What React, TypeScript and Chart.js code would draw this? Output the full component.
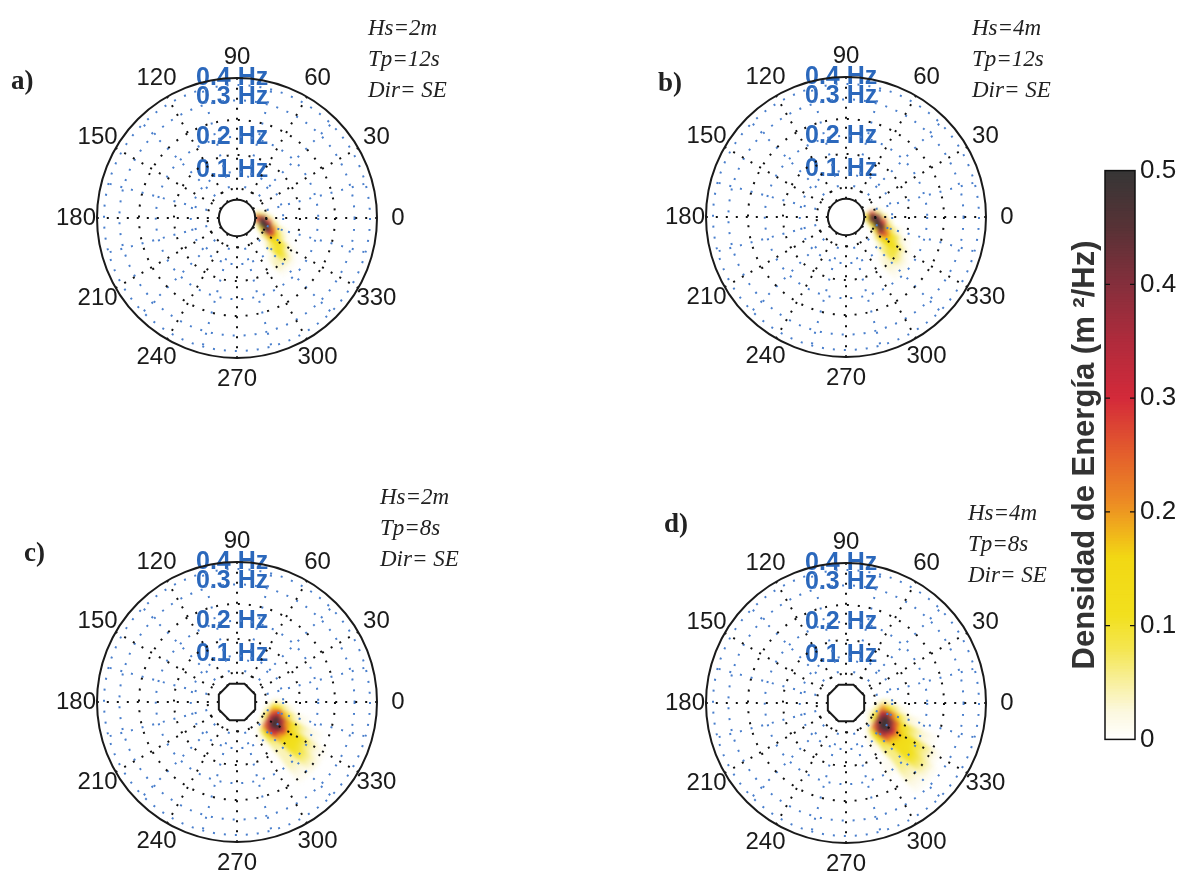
import React, { useEffect, useRef } from "react";
import { Chart, registerables } from "chart.js";

Chart.register(...registerables);

// ---------------- data ----------------
const angleTicks = [0, 30, 60, 90, 120, 150, 180, 210, 240, 270, 300, 330];
const freqTickLabels = ["0.1 Hz", "0.2 Hz", "0.3 Hz", "0.4 Hz"];
const freqTickRadii = [0.34, 0.58, 0.86, 1.0];
const blackRingRadii = [0.21, 0.45, 0.7];
const blueRingRadii = [0.33, 0.58, 0.84, 0.95];
const blackSpokeAngles = [0, 30, 60, 90, 120, 150, 180, 210, 240, 270, 300, 330];
const blueSpokeAngles = [15, 45, 75, 105, 135, 165, 195, 225, 255, 285, 315, 345];
const holeRadius = 0.13;

// spectral bins: radial position (normalised) and direction (deg)
const radialBins = [0.15, 0.19, 0.23, 0.27, 0.31, 0.35, 0.39, 0.43, 0.47, 0.51, 0.55, 0.59, 0.63, 0.67, 0.71, 0.75, 0.79];
const directionBins = [16, 8, 0, 352, 344, 336, 328, 320, 312, 304];

// energy density (m^2/Hz) per radial row / direction column
const spectrumA = [
  [0.03, 0.18, 0.35, 0.25, 0.06, 0, 0, 0, 0, 0],
  [0, 0.06, 0.38, 0.50, 0.48, 0.12, 0, 0, 0, 0],
  [0, 0, 0.06, 0.30, 0.50, 0.42, 0.07, 0, 0, 0],
  [0, 0, 0, 0.05, 0.22, 0.32, 0.17, 0.02, 0, 0],
  [0, 0, 0, 0, 0.06, 0.15, 0.15, 0.06, 0, 0],
  [0, 0, 0, 0, 0.02, 0.05, 0.13, 0.09, 0.01, 0],
  [0, 0, 0, 0, 0, 0.01, 0.08, 0.11, 0.03, 0],
  [0, 0, 0, 0, 0, 0, 0.03, 0.08, 0.04, 0],
  [0, 0, 0, 0, 0, 0, 0.01, 0.04, 0.03, 0],
  [0, 0, 0, 0, 0, 0, 0, 0.01, 0.01, 0],
];
const spectrumB = [
  [0, 0.06, 0.15, 0.08, 0, 0, 0, 0, 0, 0],
  [0.03, 0.28, 0.48, 0.42, 0.12, 0, 0, 0, 0, 0],
  [0, 0.06, 0.40, 0.50, 0.48, 0.12, 0, 0, 0, 0],
  [0, 0, 0.06, 0.28, 0.46, 0.36, 0.08, 0, 0, 0],
  [0, 0, 0, 0.05, 0.18, 0.25, 0.15, 0.03, 0, 0],
  [0, 0, 0, 0, 0.06, 0.14, 0.14, 0.06, 0, 0],
  [0, 0, 0, 0, 0.02, 0.08, 0.12, 0.08, 0.02, 0],
  [0, 0, 0, 0, 0, 0.03, 0.09, 0.09, 0.03, 0],
  [0, 0, 0, 0, 0, 0.01, 0.04, 0.06, 0.03, 0],
  [0, 0, 0, 0, 0, 0, 0.01, 0.03, 0.02, 0],
  [0, 0, 0, 0, 0, 0, 0, 0.01, 0.01, 0],
];
const spectrumC = [
  [0, 0, 0, 0, 0, 0, 0, 0, 0, 0],
  [0, 0, 0, 0, 0, 0, 0, 0, 0, 0],
  [0, 0, 0, 0.03, 0.06, 0.08, 0.06, 0.03, 0, 0],
  [0, 0, 0.03, 0.15, 0.25, 0.35, 0.35, 0.25, 0.08, 0.01],
  [0, 0, 0.02, 0.10, 0.30, 0.48, 0.50, 0.35, 0.12, 0.02],
  [0, 0, 0, 0.05, 0.18, 0.35, 0.45, 0.30, 0.10, 0.01],
  [0, 0, 0, 0.02, 0.08, 0.20, 0.28, 0.20, 0.06, 0],
  [0, 0, 0, 0, 0.04, 0.13, 0.17, 0.14, 0.05, 0],
  [0, 0, 0, 0, 0.02, 0.08, 0.13, 0.12, 0.04, 0],
  [0, 0, 0, 0, 0.01, 0.05, 0.11, 0.11, 0.04, 0],
  [0, 0, 0, 0, 0, 0.03, 0.09, 0.10, 0.04, 0],
  [0, 0, 0, 0, 0, 0.02, 0.06, 0.08, 0.04, 0],
  [0, 0, 0, 0, 0, 0.01, 0.04, 0.06, 0.03, 0],
  [0, 0, 0, 0, 0, 0, 0.02, 0.04, 0.02, 0],
  [0, 0, 0, 0, 0, 0, 0.01, 0.02, 0.01, 0],
];
const spectrumD = [
  [0, 0, 0, 0, 0, 0, 0, 0, 0, 0],
  [0, 0, 0, 0, 0.02, 0.03, 0.02, 0, 0, 0],
  [0, 0, 0.02, 0.05, 0.08, 0.10, 0.08, 0.04, 0.01, 0],
  [0, 0, 0.05, 0.20, 0.32, 0.40, 0.38, 0.25, 0.08, 0.01],
  [0, 0, 0.03, 0.15, 0.38, 0.50, 0.50, 0.38, 0.14, 0.02],
  [0, 0, 0.01, 0.07, 0.22, 0.40, 0.48, 0.35, 0.12, 0.02],
  [0, 0, 0, 0.03, 0.12, 0.25, 0.32, 0.25, 0.09, 0.01],
  [0, 0, 0, 0.01, 0.06, 0.15, 0.20, 0.17, 0.07, 0],
  [0, 0, 0, 0, 0.03, 0.10, 0.15, 0.14, 0.06, 0],
  [0, 0, 0, 0, 0.02, 0.07, 0.13, 0.13, 0.06, 0.01],
  [0, 0, 0, 0, 0.01, 0.05, 0.11, 0.12, 0.06, 0.01],
  [0, 0, 0, 0, 0, 0.03, 0.09, 0.11, 0.06, 0.01],
  [0, 0, 0, 0, 0, 0.02, 0.07, 0.09, 0.05, 0],
  [0, 0, 0, 0, 0, 0.01, 0.05, 0.07, 0.04, 0],
  [0, 0, 0, 0, 0, 0, 0.03, 0.05, 0.03, 0],
  [0, 0, 0, 0, 0, 0, 0.01, 0.03, 0.02, 0],
  [0, 0, 0, 0, 0, 0, 0, 0.01, 0.01, 0],
];
const spectra = [spectrumA, spectrumB, spectrumC, spectrumD];

const panelLetters = ["a)", "b)", "c)", "d)"];
const waveHeights = ["Hs=2m", "Hs=4m", "Hs=2m", "Hs=4m"];
const peakPeriods = ["Tp=12s", "Tp=12s", "Tp=8s", "Tp=8s"];
const waveDirections = ["Dir= SE", "Dir= SE", "Dir= SE", "Dir= SE"];
const holeShapes = ["circle", "circle", "octagon", "octagon"];

const colorbarTicks = [0, 0.1, 0.2, 0.3, 0.4, 0.5];
const colorbarTitle = "Densidad de Energía (m \u00B2/Hz)";
const colormapStops: [number, string][] = [
  [0.0, "#ffffff"],
  [0.025, "#fcf8de"],
  [0.05, "#f8f0a0"],
  [0.08, "#f4e650"],
  [0.11, "#f2e01e"],
  [0.16, "#f2d814"],
  [0.185, "#f0b01c"],
  [0.21, "#ec8a24"],
  [0.25, "#e4602c"],
  [0.3, "#d42a3a"],
  [0.35, "#b02b3c"],
  [0.4, "#852f3c"],
  [0.45, "#583236"],
  [0.5, "#363636"],
];

// ---------------- layout / style ----------------
const R = 140;
const PANELS = [
  { cx: 237, cy: 218, left: 0, top: 0, w: 590, h: 440, letter: [25, 80], text: [368, 28] },
  { cx: 846, cy: 217, left: 590, top: 0, w: 450, h: 440, letter: [672, 82], text: [972, 28] },
  { cx: 237, cy: 702, left: 0, top: 440, w: 590, h: 434, letter: [38, 552], text: [380, 497] },
  { cx: 846, cy: 703, left: 590, top: 440, w: 450, h: 434, letter: [678, 523], text: [968, 513] },
];
const SANS = "'Liberation Sans', Arial, sans-serif";
const SERIF = "'Liberation Serif', 'Times New Roman', serif";
const FREQ_BLUE = "#2b68bc";
const DOT_BLUE = "#4a7fcc";

function hexToRgb(h: string) {
  const n = parseInt(h.slice(1), 16);
  return [(n >> 16) & 255, (n >> 8) & 255, n & 255];
}
function colorFor(v: number) {
  if (v <= colormapStops[0][0]) return colormapStops[0][1];
  for (let i = 1; i < colormapStops.length; i++) {
    const [v1, c1] = colormapStops[i];
    const [v0, c0] = colormapStops[i - 1];
    if (v <= v1) {
      const t = (v - v0) / (v1 - v0);
      const a = hexToRgb(c0), b = hexToRgb(c1);
      const m = a.map((x, k) => Math.round(x + (b[k] - x) * t));
      return `rgb(${m[0]},${m[1]},${m[2]})`;
    }
  }
  return colormapStops[colormapStops.length - 1][1];
}

const rad = (d: number) => (d * Math.PI) / 180;

function PolarPanel({ index }: { index: number }) {
  const ref = useRef<HTMLCanvasElement>(null);
  const L = PANELS[index];
  useEffect(() => {
    const spectrum = spectra[index];
    const plugin = {
      id: "polarSpectrum",
      afterDraw(chart: any) {
        const { ctx } = chart;
        const xs = chart.scales.x;
        const ys = chart.scales.y;
        const cx = xs.getPixelForValue(0);
        const cy = ys.getPixelForValue(0);
        const ppu = xs.getPixelForValue(1) - cx;

        // ---- spectrum cells (offscreen, then softened) ----
        const off = document.createElement("canvas");
        off.width = chart.width;
        off.height = chart.height;
        const o = off.getContext("2d")!;
        const halfR = 0.02;
        const halfD = 4;
        spectrum.forEach((row: number[], ri: number) => {
          const rc = radialBins[ri];
          row.forEach((v: number, di: number) => {
            if (v <= 0.002) return;
            const dc = directionBins[di];
            const r0 = (rc - halfR) * ppu - 0.4;
            const r1 = (rc + halfR) * ppu + 0.4;
            const a0 = rad(dc - halfD - 0.5);
            const a1 = rad(dc + halfD + 0.5);
            o.beginPath();
            o.arc(cx, cy, r1, -a0, -a1, true);
            o.arc(cx, cy, Math.max(r0, 0), -a1, -a0, false);
            o.closePath();
            o.fillStyle = colorFor(v);
            o.fill();
          });
        });
        ctx.save();
        ctx.filter = "blur(2px)";
        ctx.drawImage(off, 0, 0);
        ctx.filter = "none";
        ctx.restore();

        // ---- frequency labels ----
        ctx.save();
        ctx.font = `bold 25px ${SANS}`;
        ctx.fillStyle = FREQ_BLUE;
        ctx.textAlign = "center";
        ctx.textBaseline = "middle";
        freqTickLabels.forEach((t, i) => {
          ctx.fillText(t, xs.getPixelForValue(-0.035), ys.getPixelForValue(freqTickRadii[i]));
        });
        ctx.restore();

        // ---- dotted grid ----
        ctx.save();
        ctx.lineWidth = 2;
        ctx.lineCap = "butt";
        ctx.setLineDash([2, 9]);
        ctx.strokeStyle = DOT_BLUE;
        blueRingRadii.forEach((r) => {
          ctx.beginPath();
          ctx.arc(cx, cy, r * ppu, 0, Math.PI * 2);
          ctx.stroke();
        });
        blueSpokeAngles.forEach((a) => {
          ctx.beginPath();
          ctx.moveTo(xs.getPixelForValue(0.22 * Math.cos(rad(a))), ys.getPixelForValue(0.22 * Math.sin(rad(a))));
          ctx.lineTo(xs.getPixelForValue(Math.cos(rad(a))), ys.getPixelForValue(Math.sin(rad(a))));
          ctx.stroke();
        });
        ctx.strokeStyle = "#111111";
        blackRingRadii.forEach((r) => {
          ctx.beginPath();
          ctx.arc(cx, cy, r * ppu, 0, Math.PI * 2);
          ctx.stroke();
        });
        ctx.setLineDash([2, 8]);
        blackSpokeAngles.forEach((a) => {
          ctx.beginPath();
          ctx.moveTo(xs.getPixelForValue(holeRadius * Math.cos(rad(a))), ys.getPixelForValue(holeRadius * Math.sin(rad(a))));
          ctx.lineTo(xs.getPixelForValue(Math.cos(rad(a))), ys.getPixelForValue(Math.sin(rad(a))));
          ctx.stroke();
        });
        ctx.restore();

        // ---- outer circle ----
        ctx.save();
        ctx.lineWidth = 2;
        ctx.strokeStyle = "#1a1a1a";
        ctx.beginPath();
        ctx.arc(cx, cy, ppu, 0, Math.PI * 2);
        ctx.stroke();

        // ---- central hole ----
        ctx.beginPath();
        if (holeShapes[index] === "circle") {
          ctx.arc(cx, cy, holeRadius * ppu, 0, Math.PI * 2);
        } else {
          const rr = (holeRadius * 1.08) * ppu;
          for (let k = 0; k < 8; k++) {
            const a = rad(22.5 + k * 45);
            const px = cx + rr * Math.cos(a);
            const py = cy - rr * Math.sin(a);
            if (k === 0) ctx.moveTo(px, py);
            else ctx.lineTo(px, py);
          }
          ctx.closePath();
        }
        ctx.fillStyle = "#ffffff";
        ctx.fill();
        ctx.stroke();
        ctx.restore();

        // ---- angle labels ----
        ctx.save();
        ctx.font = `24px ${SANS}`;
        ctx.fillStyle = "#1a1a1a";
        ctx.textAlign = "center";
        ctx.textBaseline = "middle";
        angleTicks.forEach((a) => {
          const lr = 1.15;
          ctx.fillText(String(a), xs.getPixelForValue(lr * Math.cos(rad(a))), ys.getPixelForValue(lr * Math.sin(rad(a))));
        });
        ctx.restore();
      },
    };
    const chart = new Chart(ref.current as HTMLCanvasElement, {
      type: "scatter",
      data: { datasets: [] },
      options: {
        animation: false,
        responsive: false,
        devicePixelRatio: 1,
        layout: { padding: 0 },
        plugins: { legend: { display: false }, tooltip: { enabled: false } },
        scales: {
          x: { type: "linear", display: false, min: (L.left - L.cx) / R, max: (L.left + L.w - L.cx) / R },
          y: { type: "linear", display: false, min: (L.cy - L.top - L.h) / R, max: (L.cy - L.top) / R },
        },
      } as any,
      plugins: [plugin as any],
    });
    return () => chart.destroy();
  }, [index]);
  return (
    <canvas
      ref={ref}
      width={L.w}
      height={L.h}
      style={{ position: "absolute", left: L.left, top: L.top, width: L.w, height: L.h }}
    />
  );
}

const CB = { left: 1040, top: 150, w: 146, h: 610 };

function Colorbar() {
  const ref = useRef<HTMLCanvasElement>(null);
  useEffect(() => {
    const plugin = {
      id: "colorbarFill",
      beforeDatasetsDraw(chart: any) {
        const { ctx, chartArea } = chart;
        const ys = chart.scales.y;
        const step = 0.0025;
        for (let v = 0; v < 0.5; v += step) {
          const yTop = ys.getPixelForValue(Math.min(v + step, 0.5));
          const yBot = ys.getPixelForValue(v);
          ctx.fillStyle = colorFor(v + step / 2);
          ctx.fillRect(chartArea.left, yTop - 0.5, chartArea.right - chartArea.left, yBot - yTop + 1);
        }
        ctx.save();
        ctx.strokeStyle = "#111";
        ctx.lineWidth = 1.5;
        ctx.strokeRect(chartArea.left, ys.getPixelForValue(0.5), chartArea.right - chartArea.left, ys.getPixelForValue(0) - ys.getPixelForValue(0.5));
        ctx.lineWidth = 1.2;
        colorbarTicks.forEach((t) => {
          if (t === 0 || t === 0.5) return;
          const y = ys.getPixelForValue(t);
          ctx.beginPath();
          ctx.moveTo(chartArea.left, y);
          ctx.lineTo(chartArea.left + 5, y);
          ctx.moveTo(chartArea.right, y);
          ctx.lineTo(chartArea.right - 5, y);
          ctx.stroke();
        });
        ctx.restore();
      },
    };
    const chart = new Chart(ref.current as HTMLCanvasElement, {
      type: "scatter",
      data: { datasets: [] },
      options: {
        animation: false,
        responsive: false,
        devicePixelRatio: 1,
        layout: { padding: { top: 16, bottom: 19, left: 0, right: 0 } },
        plugins: { legend: { display: false }, tooltip: { enabled: false } },
        scales: {
          x: { type: "linear", display: false, min: 0, max: 1 },
          y: {
            type: "linear",
            position: "right",
            min: 0,
            max: 0.5,
            afterBuildTicks: (axis: any) => {
              axis.ticks = colorbarTicks.map((v) => ({ value: v }));
            },
            afterFit: (s: any) => {
              s.width = 51;
            },
            grid: { display: false, drawTicks: false },
            border: { display: false },
            ticks: {
              padding: 5,
              font: { family: SANS, size: 26 },
              color: "#1a1a1a",
              callback: (v: any) => String(v),
            },
          },
          yTitle: {
            type: "linear",
            position: "left",
            min: 0,
            max: 0.5,
            afterFit: (s: any) => {
              s.width = 65;
            },
            grid: { display: false, drawTicks: false },
            border: { display: false },
            ticks: { display: false },
            title: {
              display: true,
              text: colorbarTitle,
              font: { family: SANS, size: 31, weight: "bold" },
              color: "#333333",
              padding: { top: 27, bottom: 0 },
            },
          },
        },
      } as any,
      plugins: [plugin as any],
    });
    return () => chart.destroy();
  }, []);
  return (
    <canvas
      ref={ref}
      width={CB.w}
      height={CB.h}
      style={{ position: "absolute", left: CB.left, top: CB.top, width: CB.w, height: CB.h }}
    />
  );
}

export default function App() {
  return (
    <div
      style={{
        position: "absolute",
        left: 0,
        top: 0,
        width: 1186,
        height: 874,
        background: "#ffffff",
        overflow: "hidden",
      }}
    >
      {PANELS.map((p, i) => (
        <PolarPanel key={i} index={i} />
      ))}
      <Colorbar />
      {PANELS.map((p, i) => (
        <React.Fragment key={"t" + i}>
          <div
            style={{
              position: "absolute",
              left: p.letter[0] - 14,
              top: p.letter[1] - 15,
              font: `bold 27px ${SERIF}`,
              lineHeight: "30px",
              color: "#222",
            }}
          >
            {panelLetters[i]}
          </div>
          {[waveHeights[i], peakPeriods[i], waveDirections[i]].map((t, k) => (
            <div
              key={k}
              style={{
                position: "absolute",
                left: p.text[0],
                top: p.text[1] + k * 31 - 13,
                font: `italic 23px ${SERIF}`,
                lineHeight: "26px",
                color: "#222",
                whiteSpace: "pre",
              }}
            >
              {t}
            </div>
          ))}
        </React.Fragment>
      ))}
    </div>
  );
}
